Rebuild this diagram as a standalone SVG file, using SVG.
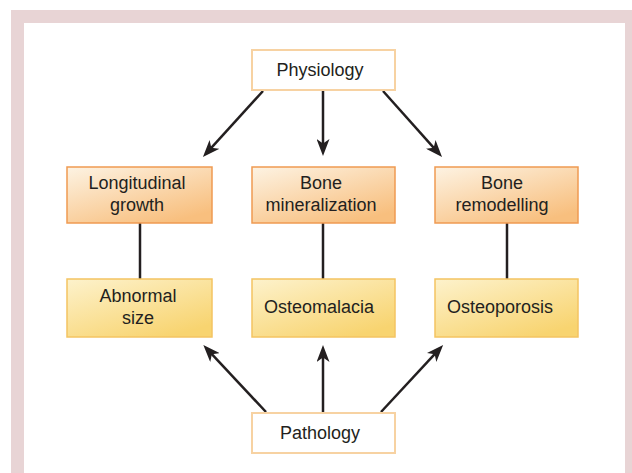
<svg xmlns="http://www.w3.org/2000/svg" width="632" height="473" viewBox="0 0 632 473">
<defs>
<linearGradient id="gOrange" x1="0" y1="0" x2="0.7" y2="1">
<stop offset="0" stop-color="#fdf3e3"/>
<stop offset="1" stop-color="#f8bf7e"/>
</linearGradient>
<linearGradient id="gYellow" x1="0" y1="0" x2="0.7" y2="1">
<stop offset="0" stop-color="#fdf2cc"/>
<stop offset="1" stop-color="#f8d470"/>
</linearGradient>
<marker id="arr" viewBox="0 0 17 13" refX="9" refY="6.5" markerWidth="17" markerHeight="13" markerUnits="userSpaceOnUse" orient="auto">
<path d="M0,0 L17,6.5 L0,13 L4.5,6.5 Z" fill="#231f20"/>
</marker>
</defs>
<style>
.t{font-family:"Liberation Sans",Arial,sans-serif;font-size:18px;fill:#231f20;text-anchor:middle}
.top{fill:url(#gOrange);stroke:#ef9a52;stroke-width:1.5}
.bot{fill:url(#gYellow);stroke:#f4c462;stroke-width:1.5}
.end{fill:#ffffff;stroke:#f7d2a2;stroke-width:2}
.ln{stroke:#231f20;stroke-width:2.5;fill:none}
</style>
<rect x="0" y="0" width="632" height="473" fill="#ffffff"/>
<path d="M11,473 V10 H632 V473 H625 V23 H24 V473 Z" fill="#e8d4d5"/>
<g id="connectors">
<line class="ln" x1="140" y1="223" x2="140" y2="279"/>
<line class="ln" x1="323" y1="223" x2="323" y2="279"/>
<line class="ln" x1="507" y1="223" x2="507" y2="279"/>
<line class="ln" x1="263" y1="91" x2="208.3" y2="151.1" marker-end="url(#arr)"/>
<line class="ln" x1="323" y1="91" x2="323" y2="148" marker-end="url(#arr)"/>
<line class="ln" x1="383" y1="91" x2="436.7" y2="151.1" marker-end="url(#arr)"/>
<line class="ln" x1="266" y1="412" x2="208.8" y2="350.9" marker-end="url(#arr)"/>
<line class="ln" x1="323" y1="412" x2="323" y2="353" marker-end="url(#arr)"/>
<line class="ln" x1="381" y1="412" x2="437.7" y2="350.9" marker-end="url(#arr)"/>
</g>
<g id="physiology">
<rect class="end" x="252" y="50" width="143" height="40"/>
<text class="t" x="320" y="76">Physiology</text>
</g>
<g id="longitudinal-growth">
<rect class="top" x="67" y="167" width="145" height="56"/>
<text class="t" x="137" y="189">Longitudinal</text>
<text class="t" x="137" y="211">growth</text>
</g>
<g id="bone-mineralization">
<rect class="top" x="252" y="167" width="143" height="56"/>
<text class="t" x="321" y="189">Bone</text>
<text class="t" x="321" y="211">mineralization</text>
</g>
<g id="bone-remodelling">
<rect class="top" x="435" y="167" width="143" height="56"/>
<text class="t" x="502" y="189">Bone</text>
<text class="t" x="502" y="211">remodelling</text>
</g>
<g id="abnormal-size">
<rect class="bot" x="67" y="279" width="145" height="58"/>
<text class="t" x="138" y="302">Abnormal</text>
<text class="t" x="138" y="324">size</text>
</g>
<g id="osteomalacia">
<rect class="bot" x="252" y="279" width="143" height="58"/>
<text class="t" x="319" y="313">Osteomalacia</text>
</g>
<g id="osteoporosis">
<rect class="bot" x="435" y="279" width="143" height="58"/>
<text class="t" x="500" y="313">Osteoporosis</text>
</g>
<g id="pathology">
<rect class="end" x="252" y="413" width="143" height="40"/>
<text class="t" x="320" y="439">Pathology</text>
</g>
</svg>
